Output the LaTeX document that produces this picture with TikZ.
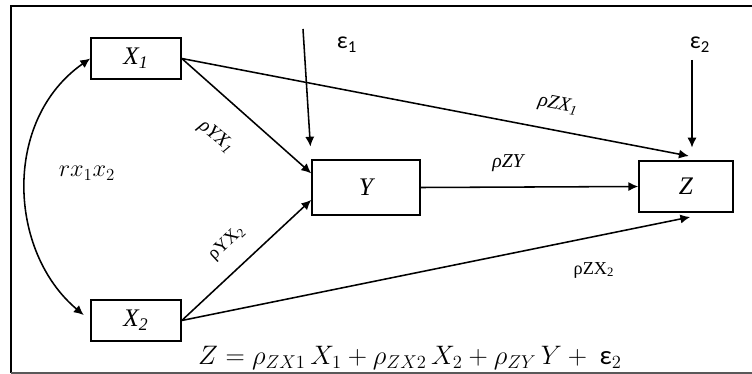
\documentclass[tikz,border=0pt]{standalone}
\usepackage{amsmath}
\usepackage{fontspec}
\setmainfont{Liberation Serif}
\newfontfamily\epsfont{Carlito}
\usetikzlibrary{arrows.meta, positioning, calc}

\begin{document}
\begin{tikzpicture}[
  x=0.025cm, y=-0.025cm,
  var/.style={rectangle, draw=black, line width=1.1pt, fill=white,
              font=\fontsize{18}{20}\selectfont\itshape},
  arr/.style={-{Latex[length=7pt,width=6.5pt]}, line width=1.1pt},
  lbl/.style={font=\fontsize{14}{16}\selectfont\itshape, inner sep=1pt},
  lblup/.style={font=\fontsize{13}{15}\selectfont, inner sep=1pt},
  epslbl/.style={font=\epsfont\fontsize{17}{19}\selectfont, inner sep=1pt}
]
\useasboundingbox (0,0) rectangle (752,374);
% frame, open on the right
\draw[line width=1.2pt] (752,6) -- (11,6) -- (11,373);
\draw[line width=0.8pt, gray!70!black] (11,373) -- (752,373);

\node[var, minimum width=2.25cm, minimum height=1.025cm] (x1) at (136,58.5)  {X\textsubscript{1}};
\node[var, minimum width=2.25cm, minimum height=1.025cm] (x2) at (136,320.5) {X\textsubscript{2}};
\node[var, minimum width=2.7cm,  minimum height=1.375cm] (y)  at (366,187.5) {Y};
\node[var, minimum width=2.35cm, minimum height=1.275cm] (z)  at (686,186.5) {Z};

\node[epslbl] (eps1) at (347,45) {ε\textsubscript{1}};
\node[epslbl] (eps2) at (700,45) {ε\textsubscript{2}};
\coordinate (e1top) at (303,29);
\coordinate (e2top) at (692,60);

\draw[arr] (x1.east) -- ($(y.north west)!0.25!(y.south west)$);
\draw[arr] (x2.east) -- ($(y.north west)!0.72!(y.south west)$);
\draw[arr] (x1.east) -- ([xshift=2pt, yshift=3pt]z.north);
\draw[arr] (x2.east) -- ([xshift=3pt, yshift=-3pt]z.south);
\draw[arr] (y.east)  -- (z.west);
\draw[arr, shorten >=9pt] (e1top) -- (y.north west);
\draw[arr, shorten >=9pt] (e2top) -- (e2top |- z.north);
% correlation between the two exogenous variables
\draw[{Latex[length=7pt,width=6.5pt]}-{Latex[length=7pt,width=6.5pt]}, line width=1.1pt, shorten >=6pt]
    (x1.west) to[out=215, in=140, looseness=1.05] (x2.west);

\node[lbl, rotate=-40] (lyx1) at (216,137) {ρYX\textsubscript{1}};
\node[lblup, rotate=43] (lyx2) at (227,243) {ρYX\textsubscript{2}};
\node[lbl, rotate=-11]  (lzx1) at (558,105) {ρZX\textsubscript{1}};
\node[lbl]              (lzy)  at (508,163) {ρZY};
\node[lblup]            (lzx2) at (594,270) {ρZX\textsubscript{2}};
\node[font=\fontsize{17.28}{20}\selectfont] (lr) at (87,173) {$rx_1x_2$};

\node[font=\fontsize{17.28}{20}\selectfont, scale=1.1] (eq) at (410,358)
  {$Z = \rho_{ZX1}\,X_1 + \rho_{ZX2}\,X_2 + \rho_{ZY}\,Y + \ \text{\epsfont ε}_2$};
\end{tikzpicture}
\end{document}
